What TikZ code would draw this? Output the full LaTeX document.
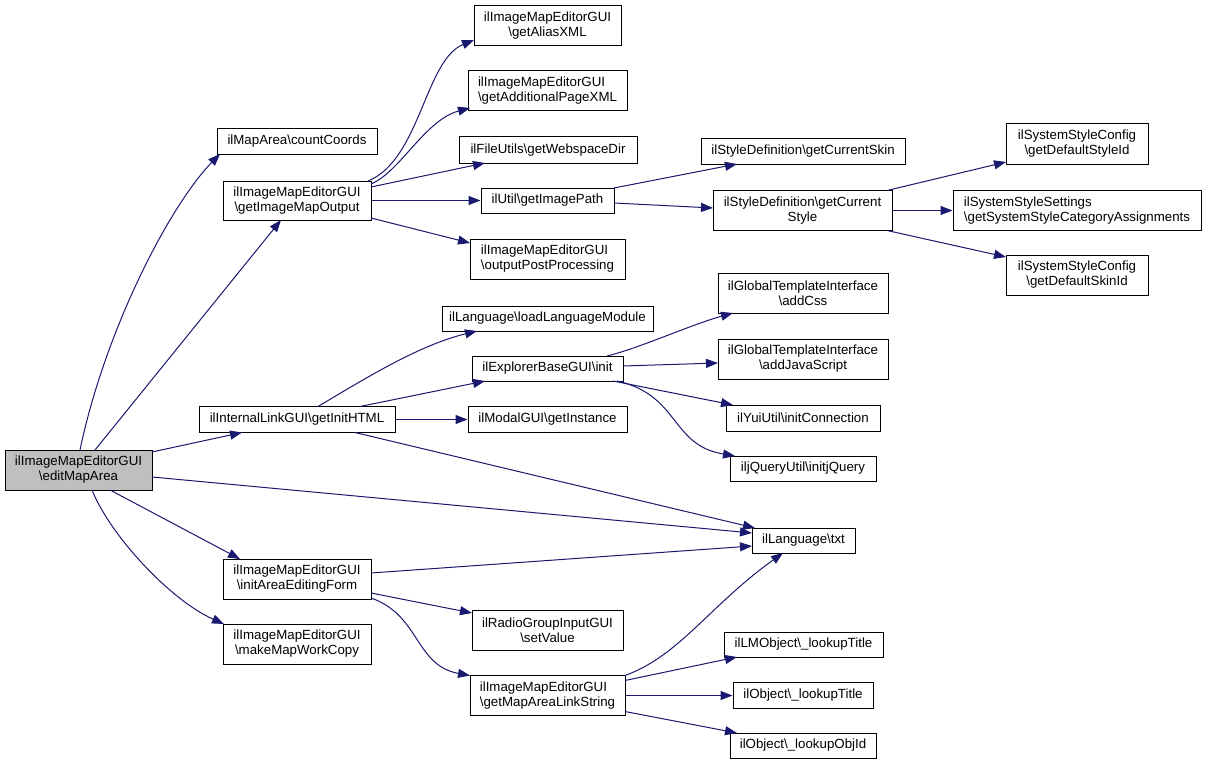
\documentclass[tikz,border=0pt]{standalone}
\usepackage{fontspec}
\setmainfont{Liberation Sans}
\usetikzlibrary{arrows.meta,calc}
\definecolor{edgec}{HTML}{191970}
\definecolor{editgray}{HTML}{BFBFBF}
\begin{document}
\begin{tikzpicture}[x=1pt,y=-1pt,
  box/.style={draw=black,line width=1pt,rectangle,inner sep=0pt,align=center,font=\fontsize{13.3}{15}\selectfont},
  sz/.style 2 args={minimum width=#1pt,minimum height=#2pt},
  call/.style={draw=edgec,line width=1pt,-{Triangle[length=12pt,width=9pt]}}]
\useasboundingbox (0,0) rectangle (1207,765);
\fill[white] (0,0) rectangle (1207,765);
% nodes
\node[box,sz={147}{40},fill=editgray] (edit) at (78.5,470) {ilImageMapEditorGUI\\\textbackslash editMapArea};
\node[box,sz={160}{25}] (count) at (297,141.5) {ilMapArea\textbackslash countCoords};
\node[box,sz={148}{39}] (gimo) at (297,200.5) {ilImageMapEditorGUI\\\textbackslash getImageMapOutput};
\node[box,sz={147}{40}] (alias) at (547.5,26) {ilImageMapEditorGUI\\\textbackslash getAliasXML};
\node[box,sz={159}{40},align=left] (addpage) at (547.5,91) {ilImageMapEditorGUI\\\textbackslash getAdditionalPageXML};
\node[box,sz={178}{26}] (webspace) at (548,150) {ilFileUtils\textbackslash getWebspaceDir};
\node[box,sz={133}{25}] (imgpath) at (547.5,200.5) {ilUtil\textbackslash getImagePath};
\node[box,sz={155}{40},align=left] (outpp) at (547.5,259) {ilImageMapEditorGUI\\\textbackslash outputPostProcessing};
\node[box,sz={204}{25}] (skin) at (803,151.5) {ilStyleDefinition\textbackslash getCurrentSkin};
\node[box,sz={179}{40}] (style) at (802.5,210.5) {ilStyleDefinition\textbackslash getCurrent\\Style};
\node[box,sz={142}{40}] (defstyle) at (1077,144) {ilSystemStyleConfig\\\textbackslash getDefaultStyleId};
\node[box,sz={248}{40},align=left] (syscat) at (1077,210.5) {ilSystemStyleSettings\\\textbackslash getSystemStyleCategoryAssignments};
\node[box,sz={142}{40}] (defskin) at (1077,275) {ilSystemStyleConfig\\\textbackslash getDefaultSkinId};
\node[box,sz={211}{25}] (loadlang) at (547.5,318.5) {ilLanguage\textbackslash loadLanguageModule};
\node[box,sz={151}{25}] (init) at (547.5,368.5) {ilExplorerBaseGUI\textbackslash init};
\node[box,sz={196}{26}] (inithtml) at (297,419.5) {ilInternalLinkGUI\textbackslash getInitHTML};
\node[box,sz={159}{26}] (getinst) at (547.5,419.5) {ilModalGUI\textbackslash getInstance};
\node[box,sz={170}{40}] (addcss) at (803,293) {ilGlobalTemplateInterface\\\textbackslash addCss};
\node[box,sz={170}{40}] (addjs) at (803,359) {ilGlobalTemplateInterface\\\textbackslash addJavaScript};
\node[box,sz={154}{26}] (initconn) at (803,418) {ilYuiUtil\textbackslash initConnection};
\node[box,sz={146}{25}] (initjq) at (803,468.5) {iljQueryUtil\textbackslash initjQuery};
\node[box,sz={103}{25}] (txt) at (803.5,540.5) {ilLanguage\textbackslash txt};
\node[box,sz={148}{40}] (iaef) at (297,579) {ilImageMapEditorGUI\\\textbackslash initAreaEditingForm};
\node[box,sz={148}{40}] (mmwc) at (297,644) {ilImageMapEditorGUI\\\textbackslash makeMapWorkCopy};
\node[box,sz={151}{40}] (setval) at (547.5,630) {ilRadioGroupInputGUI\\\textbackslash setValue};
\node[box,sz={155}{40},align=left] (gmals) at (547.5,695.5) {ilImageMapEditorGUI\\\textbackslash getMapAreaLinkString};
\node[box,sz={159}{25}] (lmlt) at (803.5,644.5) {ilLMObject\textbackslash \_lookupTitle};
\node[box,sz={140}{26}] (objlt) at (803,695.5) {ilObject\textbackslash \_lookupTitle};
\node[box,sz={146}{25}] (objid) at (803,745.5) {ilObject\textbackslash \_lookupObjId};
% edges from editMapArea
\draw[call] ($(edit)+(1.5,-20)$) .. controls +(25,-120) and +(-50,51) .. ($(count)+(-77,12.5)$);
\draw[call] ($(edit)+(16.5,-20)$) -- ($(gimo)+(-16,19.5)$);
\draw[call] ($(edit)+(73.5,-18)$) -- ($(inithtml)+(-55,13)$);
\draw[call] ($(edit)+(73.5,7)$) -- ($(txt)+(-51.5,-7.5)$);
\draw[call] ($(edit)+(31.5,20)$) -- ($(iaef)+(-57,-20)$);
\draw[call] ($(edit)+(13.5,20)$) .. controls +(18,45) and +(-54,-24) .. ($(mmwc)+(-73,-20)$);
% edges from getImageMapOutput
\draw[call] ($(gimo)+(71,-19.5)$) .. controls +(52,-21) and +(-49,20) .. ($(alias)+(-73.5,14)$);
\draw[call] ($(gimo)+(74,-16.5)$) .. controls +(29,-12) and +(-45,12) .. ($(addpage)+(-77.5,17)$);
\draw[call] ($(gimo)+(74,-13.5)$) -- ($(webspace)+(-63,13)$);
\draw[call] (gimo.east) -- (imgpath.west);
\draw[call] ($(gimo)+(74,17.5)$) -- ($(outpp)+(-77.5,-16)$);
% edges from getImagePath
\draw[call] ($(imgpath)+(66.5,-12.5)$) -- ($(skin)+(-66,12.5)$);
\draw[call] ($(imgpath)+(66.5,2.5)$) -- ($(style)+(-89.5,-2.5)$);
% edges from getCurrentStyle
\draw[call] ($(style)+(84.5,-20)$) -- ($(defstyle)+(-71,18)$);
\draw[call] (style.east) -- (syscat.west);
\draw[call] ($(style)+(84.5,20)$) -- ($(defskin)+(-71,-18)$);
% edges from getInitHTML
\draw[call] ($(inithtml)+(21,-13)$) .. controls +(52,-31) and +(-57,14) .. ($(loadlang)+(-70.5,12.5)$);
\draw[call] ($(inithtml)+(63,-13)$) -- ($(init)+(-62.5,12.5)$);
\draw[call] (inithtml.east) -- (getinst.west);
\draw[call] ($(inithtml)+(58,13)$) -- ($(txt)+(-48.5,-12.5)$);
% edges from init
\draw[call] ($(init)+(59.5,-12.5)$) .. controls +(33,-8) and +(-43,12) .. ($(addcss)+(-70,20)$);
\draw[call] ($(init)+(75.5,-2.5)$) -- ($(addjs)+(-85,4)$);
\draw[call] ($(init)+(65.5,12.5)$) -- ($(initconn)+(-70,-13)$);
\draw[call] ($(init)+(69.5,12.5)$) .. controls +(63,14) and +(-65,-11) .. ($(initjq)+(-68,-12.5)$);
% edges from initAreaEditingForm
\draw[call] ($(iaef)+(74,-6)$) -- ($(txt)+(-51.5,5.5)$);
\draw[call] ($(iaef)+(74,14)$) -- ($(setval)+(-75.5,-17)$);
\draw[call] ($(iaef)+(74,19)$) .. controls +(49,17) and +(-55,-10) .. ($(gmals)+(-77.5,-20)$);
% edges from getMapAreaLinkString
\draw[call] ($(gmals)+(77.5,-20)$) .. controls +(55,-20) and +(-73,52) .. ($(txt)+(-20.5,12.5)$);
\draw[call] ($(gmals)+(77.5,-15)$) -- ($(lmlt)+(-66.5,12.5)$);
\draw[call] (gmals.east) -- (objlt.west);
\draw[call] ($(gmals)+(77.5,16)$) -- ($(objid)+(-66,-12.5)$);
\end{tikzpicture}
\end{document}
